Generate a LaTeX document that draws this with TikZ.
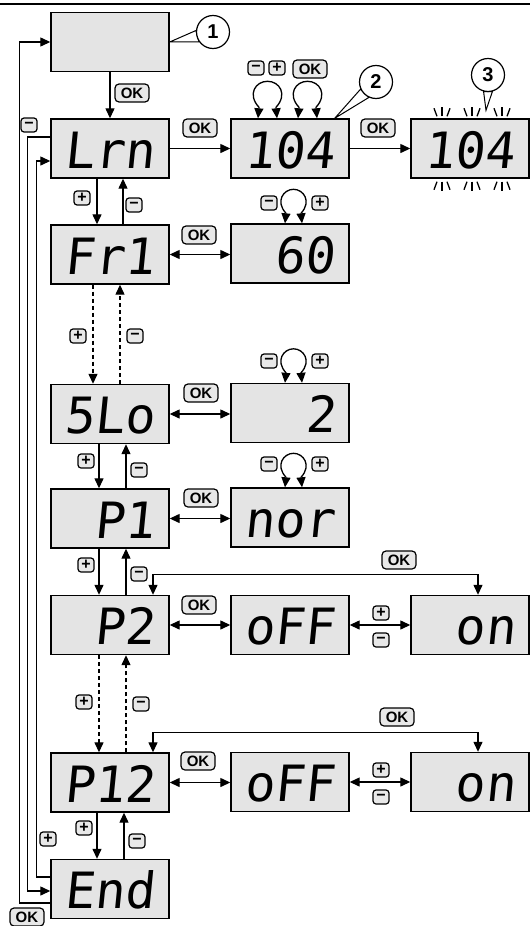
\documentclass[tikz,border=0pt]{standalone}
\usepackage{fontspec}
\setmainfont{Liberation Sans}
\newfontfamily\segfont{DejaVu Sans Mono}[FakeSlant=0.1]
\usetikzlibrary{arrows.meta}
\pgfdeclarelayer{bg}
\pgfsetlayers{bg,main}
\definecolor{lcdgray}{HTML}{E4E4E4}
\definecolor{keygray}{HTML}{E8E8E8}
\begin{document}
\begin{tikzpicture}[x=1pt,y=-1pt,
  lcdbox/.style={draw=black,line width=1.4pt,fill=lcdgray,minimum width=118pt,minimum height=59pt,inner sep=0pt},
  seg/.style={font=\segfont\fontsize{50}{50}\selectfont,inner sep=0pt,anchor=base east},
  okkey/.style={draw=black,line width=1.2pt,fill=keygray,rounded corners=4pt,minimum width=34pt,minimum height=18pt,inner sep=0pt,font=\fontsize{15}{15}\selectfont\bfseries},
  pmkey/.style={draw=black,line width=1.2pt,fill=keygray,rounded corners=3pt,minimum width=16pt,minimum height=14pt,inner sep=0pt,font=\fontsize{16}{16}\selectfont\bfseries},
  callout/.style={circle,draw=black,line width=1.2pt,fill=white,minimum size=33pt,inner sep=0pt,font=\fontsize{20}{20}\selectfont\bfseries},
  conn/.style={line width=1.3pt,draw=black},
  arr/.style={conn,-{Triangle[length=10pt,width=9pt]}},
  darr/.style={conn,{Triangle[length=10pt,width=9pt]}-{Triangle[length=10pt,width=9pt]}},
  dashline/.style={dash pattern=on 4pt off 3pt},
  flash/.style={line width=1.3pt,draw=black}
]
\useasboundingbox (0,0) rectangle (530,926);
\draw[line width=2.5pt] (0,4) -- (530,4);

% ---------- display boxes ----------
\node[lcdbox] (top)  at (110,42)    {};
\node[lcdbox] (lrn)  at (110,148.5) {};
\node[lcdbox] (fr1)  at (110,254.5) {};
\node[lcdbox] (slo)  at (110,414)   {};
\node[lcdbox] (p1)   at (110,518.5) {};
\node[lcdbox] (p2)   at (110,625)   {};
\node[lcdbox] (p12)  at (110,782.5) {};
\node[lcdbox] (end)  at (110,889)   {};
\node[lcdbox] (v104) at (290,148.5) {};
\node[lcdbox] (v60)  at (290,253.5) {};
\node[lcdbox] (v2)   at (290,413)   {};
\node[lcdbox] (vnor) at (290,517.5) {};
\node[lcdbox] (off1) at (290,625)   {};
\node[lcdbox] (off2) at (290,782)   {};
\node[lcdbox] (fl104) at (470,148.5) {};
\node[lcdbox] (on1)  at (470,625)   {};
\node[lcdbox] (on2)  at (470,782)   {};

% ---------- display texts ----------
\node[seg] (tlrn)  at ([xshift=105pt,yshift=-50pt]lrn.north west)  {Lrn};
\node[seg] (tfr1)  at ([xshift=105pt,yshift=-50pt]fr1.north west)  {Fr1};
\node[seg] (tslo)  at ([xshift=105pt,yshift=-50pt]slo.north west)  {5Lo};
\node[seg] (tp1)   at ([xshift=105pt,yshift=-50pt]p1.north west)   {P1};
\node[seg] (tp2)   at ([xshift=105pt,yshift=-50pt]p2.north west)   {P2};
\node[seg] (tp12)  at ([xshift=105pt,yshift=-50pt]p12.north west)  {P12};
\node[seg] (tend)  at ([xshift=105pt,yshift=-50pt]end.north west)  {End};
\node[seg] (t104)  at ([xshift=105pt,yshift=-50pt]v104.north west) {104};
\node[seg] (t60)   at ([xshift=105pt,yshift=-50pt]v60.north west)  {60};
\node[seg] (t2)    at ([xshift=105pt,yshift=-50pt]v2.north west)   {2};
\node[seg] (tnor)  at ([xshift=105pt,yshift=-50pt]vnor.north west) {nor};
\node[seg] (toff1) at ([xshift=105pt,yshift=-50pt]off1.north west) {oFF};
\node[seg] (toff2) at ([xshift=105pt,yshift=-50pt]off2.north west) {oFF};
\node[seg] (tfl)   at ([xshift=105pt,yshift=-50pt]fl104.north west) {104};
\node[seg] (ton1)  at ([xshift=105pt,yshift=-50pt]on1.north west)  {on};
\node[seg] (ton2)  at ([xshift=105pt,yshift=-50pt]on2.north west)  {on};

% ---------- flashing marks ----------
\foreach \dx in {-28,2,32}{
  \draw[flash] ([xshift=\dx pt]fl104.north) ++(-5,-2) -- ++(-3,-8);
  \draw[flash] ([xshift=\dx pt]fl104.north) ++(0,-2) -- ++(0,-9);
  \draw[flash] ([xshift=\dx pt]fl104.north) ++(5,-2) -- ++(3,-8);
  \draw[flash] ([xshift=\dx pt]fl104.south) ++(-5,3) -- ++(-3,8);
  \draw[flash] ([xshift=\dx pt]fl104.south) ++(0,3) -- ++(0,9);
  \draw[flash] ([xshift=\dx pt]fl104.south) ++(5,3) -- ++(3,8);
}

% ---------- callouts ----------
\node[callout] (c1) at (213,32) {1};
\node[callout] (c2) at (376,82) {2};
\node[callout] (c3) at (488,75) {3};
\begin{pgfonlayer}{bg}
  \draw[line width=1pt,fill=white] (top.east) -- (c1.175) -- (c1.215) -- cycle;
  \draw[line width=1pt,fill=white] ([xshift=-15pt]v104.north east) -- (c2.205) -- (c2.245) -- cycle;
  \draw[line width=1pt,fill=white] ([xshift=16pt,yshift=8pt]fl104.north) -- (c3.255) -- (c3.285) -- cycle;
\end{pgfonlayer}

% ---------- main connectors ----------
\draw[arr] (top) -- (lrn);
\node[okkey] (ok1) at (132,93) {OK};
\draw[arr] (lrn) -- (v104);
\node[okkey] (ok2) at (200,128) {OK};
\draw[arr] (v104) -- (fl104);
\node[okkey] (ok3) at (378,128) {OK};

% loops above 104
\draw[darr] ([xshift=-32pt]v104.north) -- ++(1,-11) .. controls +(-12,-13) and +(-12,0) .. ++(8.5,-26) .. controls +(12,0) and +(12,-13) .. ++(8.5,26) -- ++(1,11);
\draw[darr] ([xshift=8pt]v104.north) -- ++(1,-11) .. controls +(-12,-13) and +(-12,0) .. ++(8.5,-26) .. controls +(12,0) and +(12,-13) .. ++(8.5,26) -- ++(1,11);
\node[pmkey] (m104) at (256,68) {−};
\node[pmkey] (p104) at (277,68) {+};
\node[okkey] (ok4) at (310,69) {OK};

% value loops
\draw[darr] ([xshift=-5pt]v60.north) -- ++(1,-10) .. controls +(-11,-12) and +(-10,0) .. ++(7.5,-24) .. controls +(10,0) and +(11,-12) .. ++(7.5,24) -- ++(1,10);
\node[pmkey] (m60) at (269,203) {−};
\node[pmkey] (p60) at (320,203) {+};
\draw[darr] ([xshift=-5pt]v2.north) -- ++(1,-10) .. controls +(-11,-12) and +(-10,0) .. ++(7.5,-24) .. controls +(10,0) and +(11,-12) .. ++(7.5,24) -- ++(1,10);
\node[pmkey] (m2) at (269,361) {−};
\node[pmkey] (p2k) at (320,361) {+};
\draw[darr] ([xshift=-5pt]vnor.north) -- ++(1,-10) .. controls +(-11,-12) and +(-10,0) .. ++(7.5,-24) .. controls +(10,0) and +(11,-12) .. ++(7.5,24) -- ++(1,10);
\node[pmkey] (mnor) at (269,464) {−};
\node[pmkey] (pnor) at (320,464) {+};

% horizontal OK double arrows
\draw[darr] (fr1.east) -- (v60.west |- fr1.east);
\node[okkey] (ok5) at (199,235) {OK};
\draw[darr] (slo.east) -- (v2.west |- slo.east);
\node[okkey] (ok6) at (201,393) {OK};
\draw[darr] (p1.east) -- (vnor.west |- p1.east);
\node[okkey] (ok7) at (201,498) {OK};
\draw[darr] (p2.east) -- (off1.west);
\node[okkey] (ok8) at (199,605) {OK};
\draw[darr] (p12.east) -- (off2.west |- p12.east);
\node[okkey] (ok9) at (198,761) {OK};

% off <-> on
\draw[darr] (off1.east) -- (on1.west);
\node[pmkey] (pon1) at (381,613) {+};
\node[pmkey] (mon1) at (381,640) {−};
\draw[darr] (off2.east) -- (on2.west);
\node[pmkey] (pon2) at (381,770) {+};
\node[pmkey] (mon2) at (381,797) {−};

% OK return lines from P2 / P12 to on
\draw[darr] ([xshift=43pt]p2.north) -- ++(0,-20) -| ([xshift=8pt]on1.north);
\node[okkey] (ok10) at (399,560) {OK};
\draw[darr] ([xshift=43pt]p12.north) -- ++(0,-20) -| ([xshift=8pt]on2.north);
\node[okkey] (ok11) at (397,717) {OK};

% ---------- vertical menu connectors ----------
\draw[arr] ([xshift=-13pt]lrn.south) -- ([xshift=-13pt]fr1.north);
\draw[arr] ([xshift=13pt]fr1.north) -- ([xshift=13pt]lrn.south);
\node[pmkey] (pa) at (82,198) {+};
\node[pmkey] (ma) at (134,205) {−};

\draw[arr,dashline] ([xshift=-17pt]fr1.south) -- ([xshift=-17pt]slo.north);
\draw[arr,dashline] ([xshift=10pt]slo.north) -- ([xshift=10pt]fr1.south);
\node[pmkey] (pb) at (78,336) {+};
\node[pmkey] (mb) at (135,336) {−};

\draw[arr] ([xshift=-11pt]slo.south) -- ([xshift=-11pt]p1.north);
\draw[arr] ([xshift=16pt]p1.north) -- ([xshift=16pt]slo.south);
\node[pmkey] (pc) at (86,461) {+};
\node[pmkey] (mc) at (139,470) {−};

\draw[arr] ([xshift=-11pt]p1.south) -- ([xshift=-11pt]p2.north);
\draw[arr] ([xshift=16pt]p2.north) -- ([xshift=16pt]p1.south);
\node[pmkey] (pd) at (86,565) {+};
\node[pmkey] (md) at (139,574) {−};

\draw[arr,dashline] ([xshift=-11pt]p2.south) -- ([xshift=-11pt]p12.north);
\draw[arr,dashline] ([xshift=16pt]p12.north) -- ([xshift=16pt]p2.south);
\node[pmkey] (pe) at (84,702) {+};
\node[pmkey] (me) at (141,704) {−};

\draw[arr] ([xshift=-13pt]p12.south) -- ([xshift=-13pt]end.north);
\draw[arr] ([xshift=14pt]end.north) -- ([xshift=14pt]p12.south);
\node[pmkey] (pf) at (84,828) {+};
\node[pmkey] (mf) at (137,841) {−};

% ---------- left return lines ----------
\draw[arr] ([yshift=-14pt]end.west) -- ++(-31,0) |- (top.west);
\node[okkey] (ok12) at (27,917) {OK};
\draw[arr] ([yshift=11.5pt]lrn.west) -- ++(-23,0) |- ([yshift=-2pt]end.west);
\node[pmkey] (mg) at (29,125) {−};
\draw[arr] ([yshift=12pt]end.west) -- ++(-14,0) |- ([yshift=-12.5pt]lrn.west);
\node[pmkey] (pg) at (48,839) {+};
\end{tikzpicture}
\end{document}
